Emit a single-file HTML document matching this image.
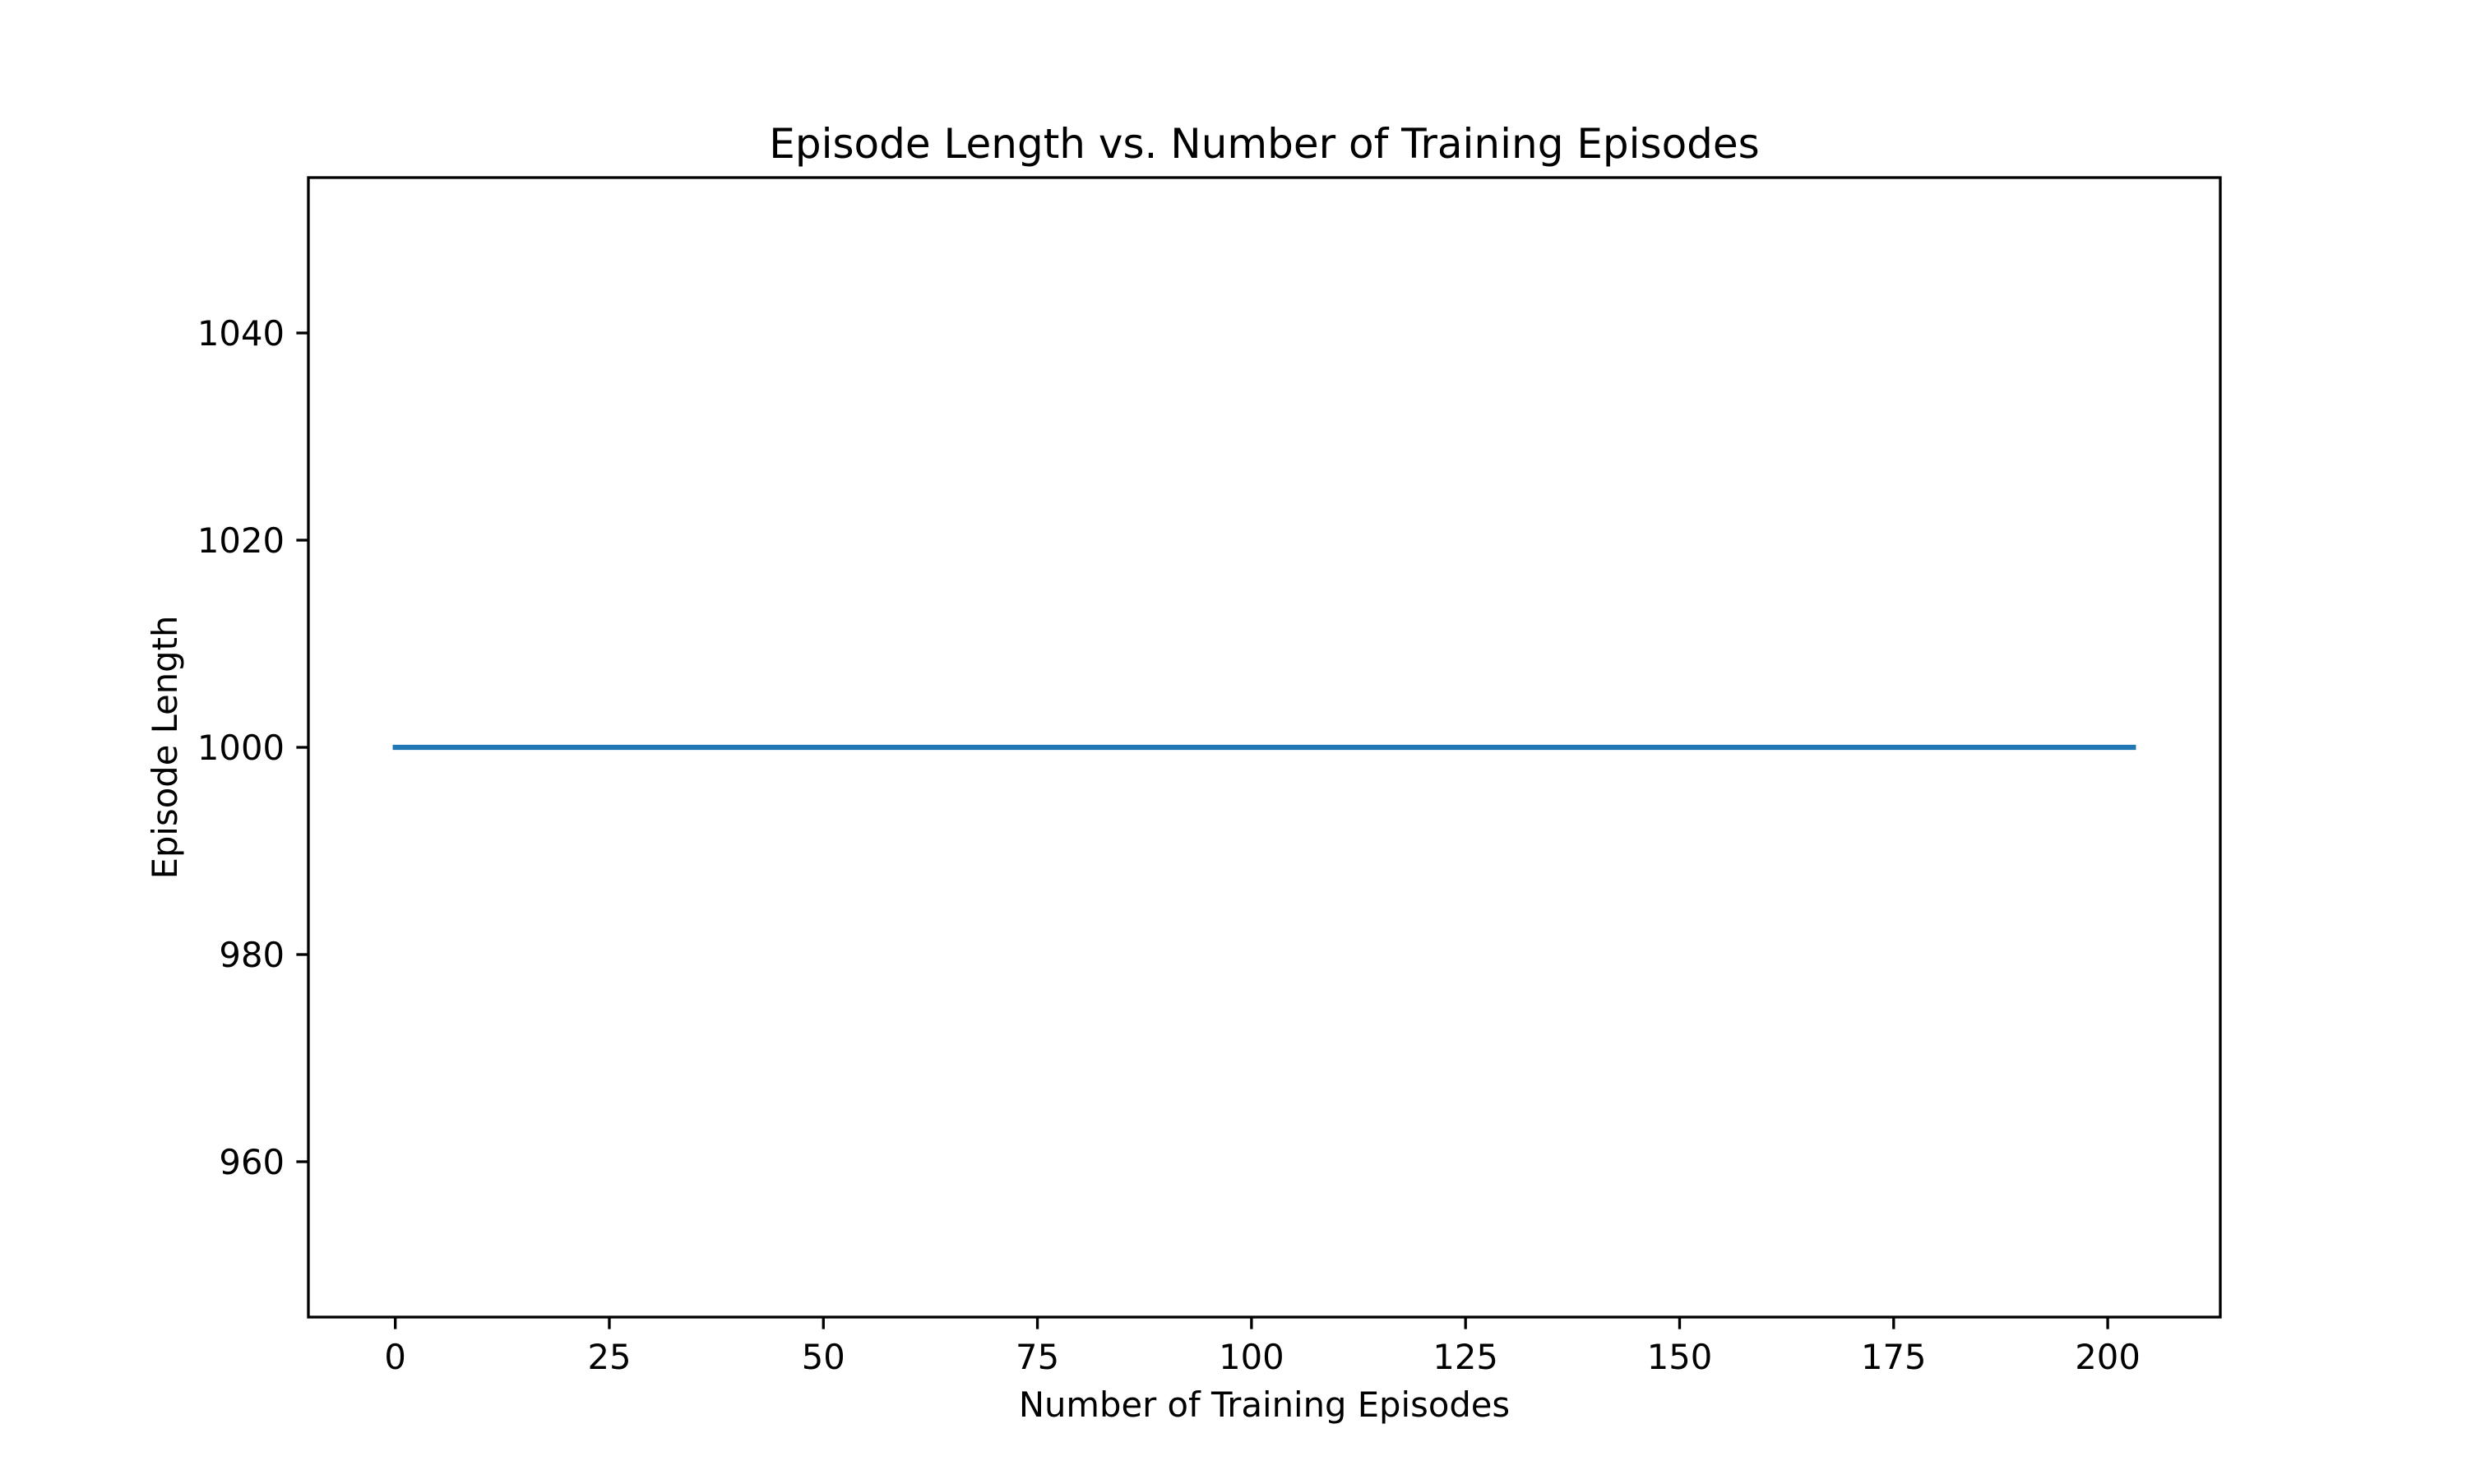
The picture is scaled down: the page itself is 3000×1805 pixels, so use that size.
<!DOCTYPE html>
<html><head><meta charset="utf-8"><style>
html,body{margin:0;padding:0;background:#fff;}
svg text{font-family:"DejaVu Sans","Liberation Sans",sans-serif;fill:#000;}
</style></head><body>
<svg id="chart" width="3000" height="1800" viewBox="0 0 3000 1800" xmlns="http://www.w3.org/2000/svg">
<rect width="3000" height="1800" fill="#fff"/>
<text x="1537.5" y="192" font-size="50" text-anchor="middle">Episode Length vs. Number of Training Episodes</text>
<g id="xticks"></g>
<g id="yticks"></g>
<polyline id="line" fill="none" stroke="#1f77b4" stroke-width="6.25" stroke-linecap="square"/>
<rect x="375" y="216" width="2325" height="1386" fill="none" stroke="#000" stroke-width="3.33"/>
<text x="1537.5" y="1723" font-size="41.7" text-anchor="middle">Number of Training Episodes</text>
<text transform="translate(215,909) rotate(-90)" font-size="41.7" text-anchor="middle">Episode Length</text>
</svg>
<script>
const xTicks = [0,25,50,75,100,125,150,175,200];
const yTicks = [960,980,1000,1020,1040];
const episodeLengths = [
1000,1000,1000,1000,1000,1000,1000,1000,1000,1000,1000,1000,1000,1000,1000,1000,1000,1000,1000,1000,
1000,1000,1000,1000,1000,1000,1000,1000,1000,1000,1000,1000,1000,1000,1000,1000,1000,1000,1000,1000,
1000,1000,1000,1000,1000,1000,1000,1000,1000,1000,1000,1000,1000,1000,1000,1000,1000,1000,1000,1000,
1000,1000,1000,1000,1000,1000,1000,1000,1000,1000,1000,1000,1000,1000,1000,1000,1000,1000,1000,1000,
1000,1000,1000,1000,1000,1000,1000,1000,1000,1000,1000,1000,1000,1000,1000,1000,1000,1000,1000,1000,
1000,1000,1000,1000,1000,1000,1000,1000,1000,1000,1000,1000,1000,1000,1000,1000,1000,1000,1000,1000,
1000,1000,1000,1000,1000,1000,1000,1000,1000,1000,1000,1000,1000,1000,1000,1000,1000,1000,1000,1000,
1000,1000,1000,1000,1000,1000,1000,1000,1000,1000,1000,1000,1000,1000,1000,1000,1000,1000,1000,1000,
1000,1000,1000,1000,1000,1000,1000,1000,1000,1000,1000,1000,1000,1000,1000,1000,1000,1000,1000,1000,
1000,1000,1000,1000,1000,1000,1000,1000,1000,1000,1000,1000,1000,1000,1000,1000,1000,1000,1000,1000,
1000,1000,1000,1000];
const L=375,R=2700,T=216,B=1602;
const n=episodeLengths.length;
const xmin=-0.05*(n-1), xmax=(n-1)*1.05;
let ymin=Math.min(...episodeLengths), ymax=Math.max(...episodeLengths);
if(ymax-ymin<1e-9){ymin-=55;ymax+=55;}else{const p=(ymax-ymin)*0.05;ymin-=p;ymax+=p;}
const sx=v=>L+(v-xmin)/(xmax-xmin)*(R-L);
const sy=v=>B-(v-ymin)/(ymax-ymin)*(B-T);
const NS="http://www.w3.org/2000/svg";
const xg=document.getElementById('xticks'), yg=document.getElementById('yticks');
xTicks.forEach(t=>{
  const x=sx(t);
  const ln=document.createElementNS(NS,'line');
  
  
  ln.setAttribute('x1',x);ln.setAttribute('x2',x);ln.setAttribute('y1',B);ln.setAttribute('y2',B+14.6);
  ln.setAttribute('stroke','#000');ln.setAttribute('stroke-width','3.33');
  xg.appendChild(ln);
  const tx=document.createElementNS(NS,'text');
  
  
  tx.setAttribute('x',x);tx.setAttribute('y',B+63);tx.setAttribute('font-size','41.7');tx.setAttribute('text-anchor','middle');
  tx.textContent=t;xg.appendChild(tx);
});
yTicks.forEach(t=>{
  const y=sy(t);
  const ln=document.createElementNS(NS,'line');
  
  
  ln.setAttribute('x1',L-14.6);ln.setAttribute('x2',L);ln.setAttribute('y1',y);ln.setAttribute('y2',y);
  ln.setAttribute('stroke','#000');ln.setAttribute('stroke-width','3.33');
  yg.appendChild(ln);
  const tx=document.createElementNS(NS,'text');
  
  
  tx.setAttribute('x',L-29);tx.setAttribute('y',y+15);tx.setAttribute('font-size','41.7');tx.setAttribute('text-anchor','end');
  tx.textContent=t;yg.appendChild(tx);
});
document.getElementById('line').setAttribute('points',episodeLengths.map((v,i)=>sx(i)+','+sy(v)).join(' '));
</script>
</body></html>
